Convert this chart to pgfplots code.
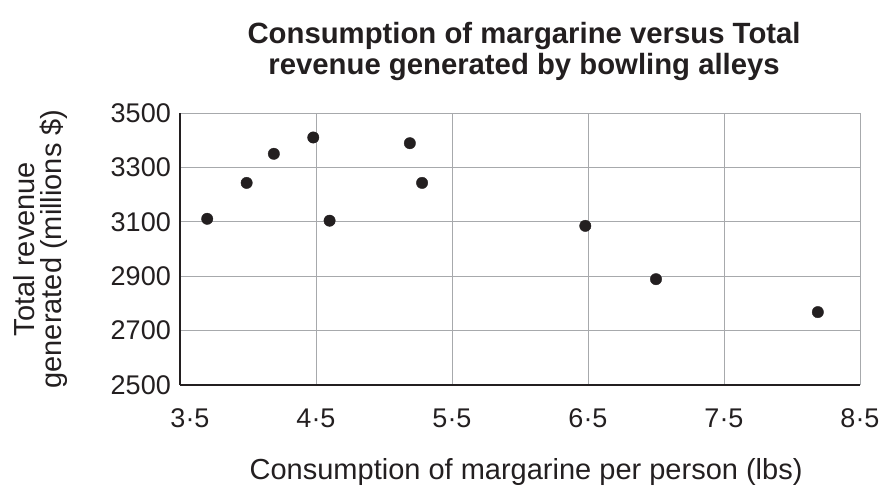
\documentclass[border=0pt]{standalone}
\usepackage{fontspec}
\setmainfont{Liberation Sans}
\usepackage{pgfplots}
\pgfplotsset{compat=1.18}
\definecolor{ink}{HTML}{231F20}
\definecolor{gridc}{HTML}{A7A9AC}
\begin{document}
\begin{tikzpicture}
\begin{axis}[
  at={(180bp,101bp)}, anchor=south west,
  scale only axis, width=680bp, height=272bp,
  xmin=3.5, xmax=8.5, ymin=2500, ymax=3500,
  xtick={3.5,4.5,5.5,6.5,7.5,8.5},
  xticklabels={\hspace*{20bp}3·5,4·5,5·5,6·5,7·5,8·5},
  ytick={2500,2700,2900,3100,3300,3500},
  grid=major, major grid style={gridc, line width=0.9bp},
  major tick length=0pt,
  axis x line*=bottom, axis y line*=left,
  axis line style={-, ink, line width=2bp},
  /pgf/number format/assume math mode=true,
  /pgf/number format/1000 sep={},
  tick label style={font=\fontsize{27bp}{30bp}\selectfont, text=ink},
  xticklabel style={anchor=base, yshift=-42.5bp, inner sep=0pt},
  yticklabel style={anchor=east, xshift=-9bp, inner sep=0pt},
  title={Consumption of margarine versus Total\\revenue generated by bowling alleys},
  title style={font=\bfseries\fontsize{29.3bp}{31.5bp}\selectfont, text=ink, align=center,
    at={(axis description cs:0.506,1)}, anchor=north, yshift=85bp, inner sep=0pt},
  xlabel={Consumption of margarine per person (lbs)},
  xlabel style={font=\fontsize{29bp}{32bp}\selectfont, text=ink,
    at={(axis description cs:0.509,-0.349)}, anchor=base, inner sep=0pt},
  ylabel={Total revenue\\generated (millions \$)},
  ylabel style={font=\fontsize{29bp}{27bp}\selectfont, text=ink, align=center,
    at={(axis description cs:-0.165,0.5)}, anchor=south, inner sep=0pt},
]
\addplot[only marks, mark=*, mark size=5.7bp, mark options={fill=ink, draw=ink}] coordinates {
(3.70,3111) (3.99,3243) (4.19,3350) (4.48,3410) (4.60,3104)
(5.19,3389) (5.28,3243) (6.48,3085) (7.00,2889) (8.19,2768)
};
\end{axis}
\pgfresetboundingbox
\path (0,0) rectangle (880bp,486bp);
\end{tikzpicture}
\end{document}
